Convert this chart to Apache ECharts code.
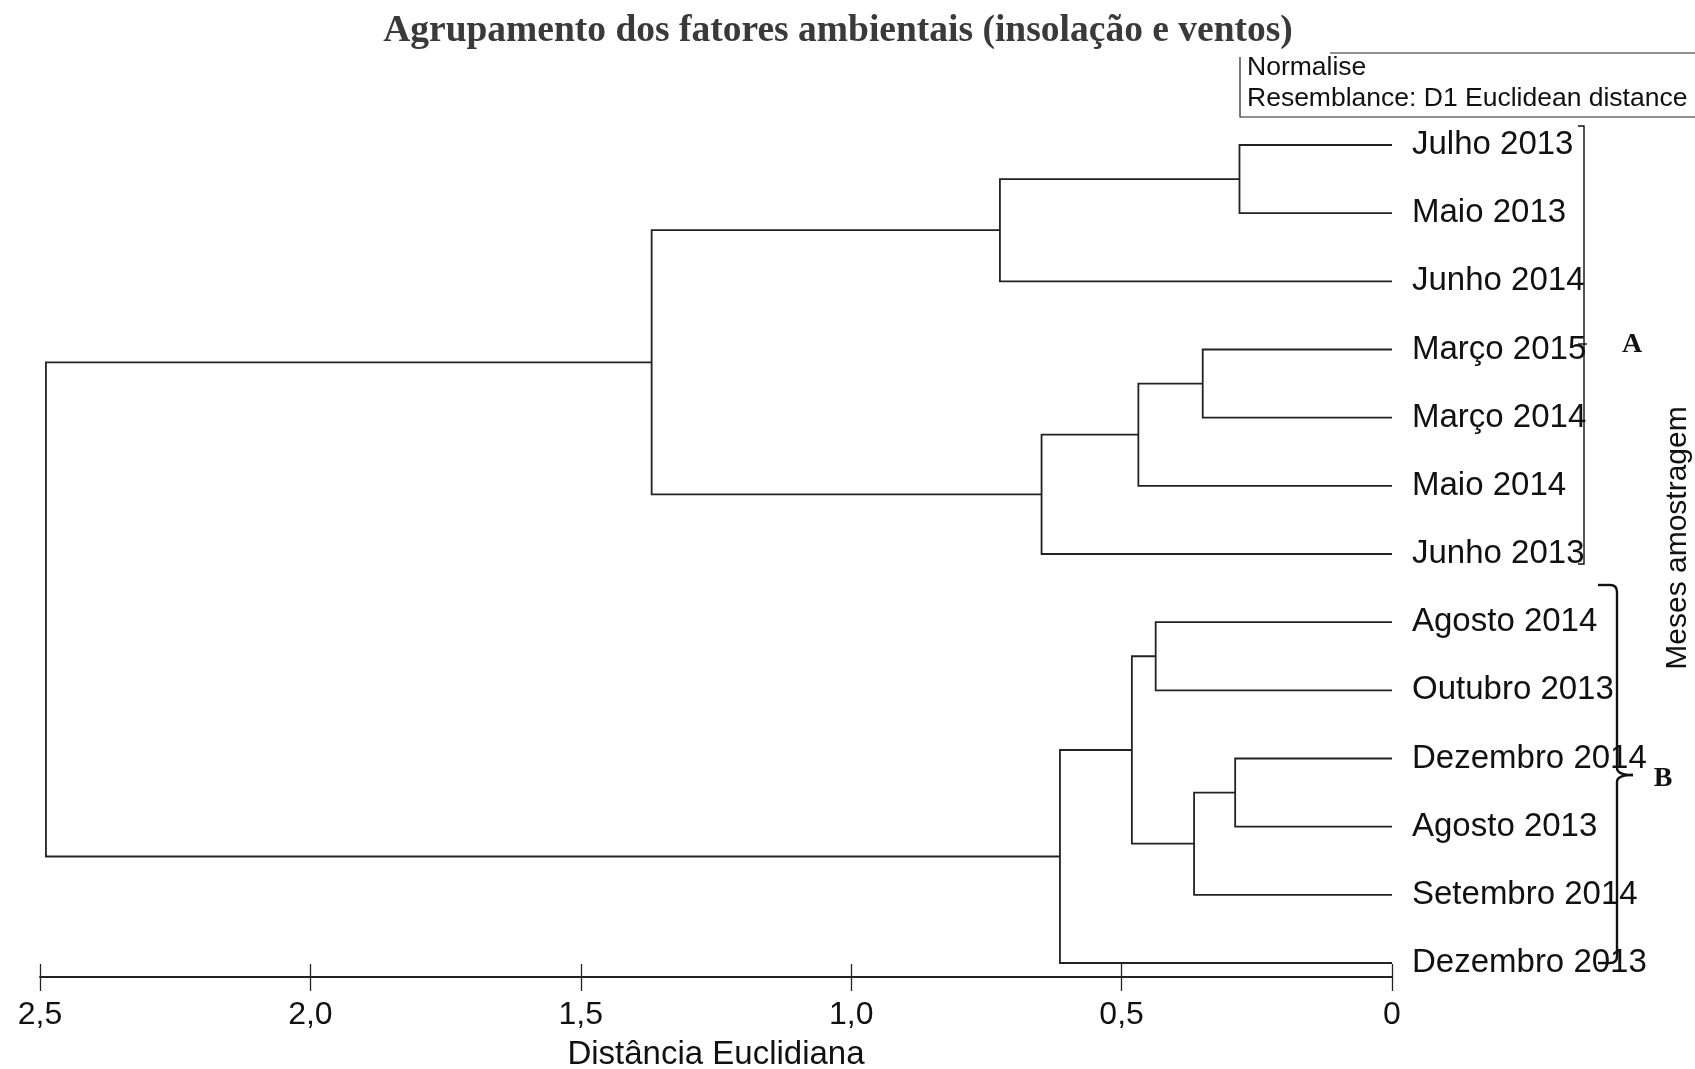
<!DOCTYPE html>
<html>
<head>
<meta charset="utf-8">
<script src="https://cdn.jsdelivr.net/npm/echarts@6/dist/echarts.min.js"></script>
<style>
html,body{margin:0;padding:0;background:#fff;}
#chart{width:1695px;height:1069px;}
</style>
</head>
<body>
<div id="chart"></div>
<script>
// Leaf labels (top to bottom)
var leafNames = ['Julho 2013','Maio 2013','Junho 2014','Março 2015','Março 2014','Maio 2014','Junho 2013',
  'Agosto 2014','Outubro 2013','Dezembro 2014','Agosto 2013','Setembro 2014','Dezembro 2013'];
// Merges: [child A, child B, height]; node ids continue after the leaves (13, 14, ...)
var mergeA = [0, 13, 3, 15, 16, 14, 7, 9, 20, 19, 22, 18];
var mergeB = [1, 2, 4, 5, 6, 17, 8, 10, 11, 21, 12, 23];
var mergeHeight = [0.282, 0.725, 0.350, 0.469, 0.648, 1.369, 0.437, 0.290, 0.366, 0.481, 0.614, 2.489];
// Axis tick labels
var tickValues = [0, 0.5, 1.0, 1.5, 2.0, 2.5];
var tickLabels = ['0', '0,5', '1,0', '1,5', '2,0', '2,5'];

var nodeY = leafNames.map(function (_, i) { return i; });
var nodeH = leafNames.map(function () { return 0; });
var segs = [];
for (var k = 0; k < mergeA.length; k++) {
  var a = mergeA[k], b = mergeB[k], h = mergeHeight[k];
  segs.push({coords: [[nodeH[a], nodeY[a]], [h, nodeY[a]], [h, nodeY[b]], [nodeH[b], nodeY[b]]]});
  nodeY.push((nodeY[a] + nodeY[b]) / 2);
  nodeH.push(h);
}

var SANS = '"Liberation Sans", Arial, sans-serif';
var SERIF = '"Liberation Serif", "Times New Roman", serif';
var chart = echarts.init(document.getElementById('chart'));
var lineCol = '#222';

function bz(x1, y1, cx, cy, x2, y2) {
  return {type: 'bezierCurve', shape: {x1: x1, y1: y1, cpx1: cx, cpy1: cy, x2: x2, y2: y2},
    style: {stroke: '#111', lineWidth: 2.4, fill: null}};
}
function pl(points, w, col) {
  return {type: 'polyline', shape: {points: points}, style: {stroke: col || '#111', lineWidth: w, fill: null}};
}
function fmt(v) {
  for (var i = 0; i < tickValues.length; i++) if (Math.abs(tickValues[i] - v) < 1e-6) return tickLabels[i];
  return '';
}

chart.setOption({
  animation: false,
  backgroundColor: '#fff',
  grid: [
    {left: 40, right: 303, top: 145, bottom: 106, containLabel: false, outerBoundsMode: 'none'},
    {left: 40, right: 303, top: 145, bottom: 106, containLabel: false, outerBoundsMode: 'none'}
  ],
  xAxis: [{
    gridIndex: 0, type: 'value', min: 0, max: 2.5, interval: 0.5, inverse: true, position: 'bottom', offset: 14,
    axisLine: {show: true, onZero: false, lineStyle: {color: lineCol, width: 1.8}},
    axisTick: {show: false},
    splitLine: {show: false},
    axisLabel: {margin: 22, fontSize: 32, color: '#111', fontFamily: SANS, formatter: fmt},
    name: 'Distância Euclidiana', nameLocation: 'middle', nameGap: 61,
    nameTextStyle: {fontSize: 33, color: '#111', fontFamily: SANS}
  }, {
    gridIndex: 1, type: 'value', min: 0, max: 2.5, interval: 0.5, inverse: true, position: 'bottom', offset: 1,
    axisLine: {show: false, onZero: false},
    axisTick: {show: true, length: 27, lineStyle: {color: lineCol, width: 1.3}},
    splitLine: {show: false},
    axisLabel: {show: false}
  }],
  yAxis: [{
    gridIndex: 0, type: 'value', min: 0, max: 12, inverse: true, show: false,
    axisLine: {onZero: false}, splitLine: {show: false}
  }, {
    gridIndex: 0, type: 'category', data: leafNames, inverse: true, boundaryGap: false, position: 'right',
    axisLine: {show: false, onZero: false}, axisTick: {show: false}, splitLine: {show: false},
    axisLabel: {margin: 20, fontSize: 33, color: '#111', fontFamily: SANS, align: 'left', interval: 0}
  }, {
    gridIndex: 1, type: 'value', min: 0, max: 12, show: false,
    axisLine: {onZero: false}, splitLine: {show: false}
  }],
  series: [{
    type: 'lines', coordinateSystem: 'cartesian2d', xAxisIndex: 0, yAxisIndex: 0,
    polyline: true, silent: true,
    lineStyle: {color: lineCol, width: 1.8, opacity: 1},
    data: segs
  }, {
    type: 'line', xAxisIndex: 1, yAxisIndex: 2, data: [], silent: true, showSymbol: false
  }],
  graphic: [
    {type: 'text', x: 838, y: 31, style: {text: 'Agrupamento dos fatores ambientais (insolação e ventos)',
      font: 'bold 37.5px ' + SERIF, fill: '#3a3a3a', textAlign: 'center', textVerticalAlign: 'middle'}},
    // resemblance box
    pl([[1330, 53], [1695, 53]], 1.2, '#222'),
    pl([[1240, 57], [1240, 117], [1695, 117]], 1.2, '#222'),
    {type: 'text', x: 1247, y: 68, style: {text: 'Normalise', font: '26.5px ' + SANS, fill: '#111', textVerticalAlign: 'middle'}},
    {type: 'text', x: 1247, y: 99, style: {text: 'Resemblance: D1 Euclidean distance', font: '26.5px ' + SANS, fill: '#111', textVerticalAlign: 'middle'}},
    // bracket A
    pl([[1578, 126], [1584, 126], [1584, 564], [1578, 564]], 1.4),
    pl([[1578, 344], [1587, 344]], 1.4),
    {type: 'text', x: 1632, y: 345, style: {text: 'A', font: 'bold 28px ' + SERIF, fill: '#111', textAlign: 'center', textVerticalAlign: 'middle'}},
    // brace B
    pl([[1598, 585], [1610, 585]], 2.4),
    bz(1610, 585, 1617, 585, 1617, 592),
    pl([[1617, 592], [1617, 768]], 2.4),
    bz(1617, 768, 1617, 775, 1633, 775),
    bz(1633, 775, 1617, 775, 1617, 782),
    pl([[1617, 782], [1617, 956]], 2.4),
    bz(1617, 956, 1617, 963, 1610, 963),
    pl([[1610, 963], [1598, 963]], 2.4),
    {type: 'text', x: 1663, y: 779, style: {text: 'B', font: 'bold 28px ' + SERIF, fill: '#111', textAlign: 'center', textVerticalAlign: 'middle'}},
    // side title
    {type: 'text', x: 1678, y: 538, rotation: Math.PI / 2, style: {text: 'Meses amostragem', font: '30px ' + SANS, fill: '#111', textAlign: 'center', textVerticalAlign: 'middle'}}
  ]
});
</script>
</body>
</html>
